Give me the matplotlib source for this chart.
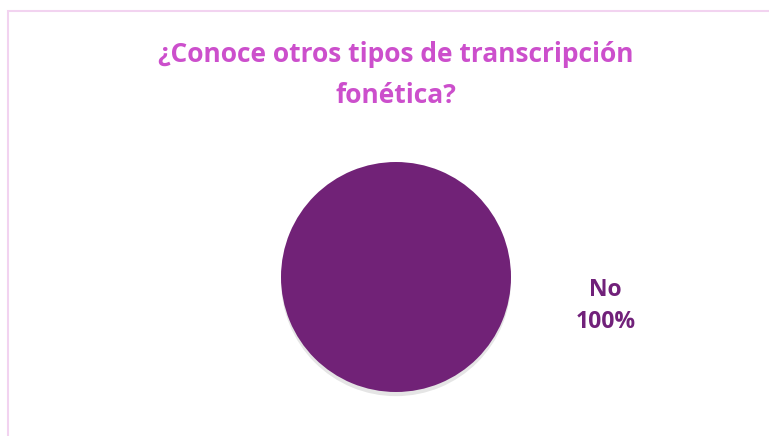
import matplotlib.pyplot as plt
import matplotlib.patheffects as pe
from matplotlib.patches import Rectangle

plt.rcParams['font.family'] = ['Open Sans', 'DejaVu Sans']

# datos
categorias = ['No']
porcentajes = [100]
titulo = '¿Conoce otros tipos de transcripción\nfonética?'

W, H = 769, 436
fig = plt.figure(figsize=(W / 100, H / 100), dpi=100)

# marco del gráfico (se corta a la derecha y abajo)
fig.patches.append(Rectangle((7.5 / W, -0.1), 1.2, (H - 10.5) / H + 0.1,
                             transform=fig.transFigure, fill=False,
                             edgecolor='#F2D3F0', linewidth=1.5))

fig.text(396 / W, 1 - 75 / H, titulo, ha='center', va='center',
         fontsize=19, fontweight='bold', color='#CC4FCC', linespacing=1.7)

cx, cy, r = 396, H - 277, 115
ax = fig.add_axes([(cx - r) / W, (cy - r) / H, 2 * r / W, 2 * r / H])
etiquetas = [f'{c}\n{p}%' for c, p in zip(categorias, porcentajes)]
wedges, texts = ax.pie(porcentajes, labels=etiquetas, colors=['#712277'],
                       startangle=172, labeldistance=1.84,
                       textprops=dict(ha='center', va='center', fontsize=16.5,
                                      fontweight='bold', color='#71217A',
                                      linespacing=1.45))
for w in wedges:
    w.set_path_effects([pe.SimplePatchShadow(offset=(0, -3), shadow_rgbFace='#000000', alpha=0.1),
                        pe.Normal()])
ax.set_xlim(-1, 1)
ax.set_ylim(-1, 1)
ax.set_aspect('equal')

fig.savefig('out.png', dpi=100)
